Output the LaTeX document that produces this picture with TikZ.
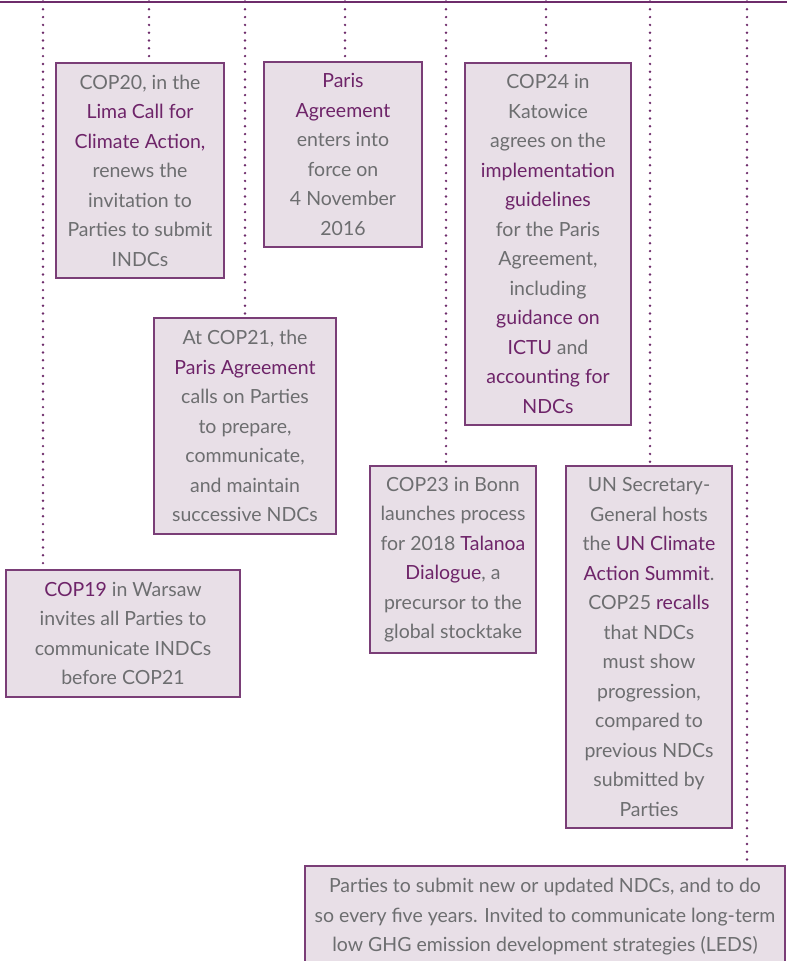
\documentclass[tikz,border=0pt]{standalone}
\usepackage{fontspec}
\setmainfont{Lato}
\definecolor{lineP}{HTML}{6E2C6B}
\definecolor{boxfill}{HTML}{E8DFE7}
\definecolor{boxline}{HTML}{7A3E77}
\definecolor{txtgray}{HTML}{6D6E70}
\definecolor{txtP}{HTML}{6E2469}
\newcommand\ptx[1]{\textcolor{txtP}{#1}}
\begin{document}
\begin{tikzpicture}[x=1pt,y=-1pt,
  box/.style={draw=boxline, line width=1.2pt, fill=boxfill, text=txtgray,
    align=center, inner sep=0pt, font=\fontsize{19.5}{29.5}\selectfont},
  dotline/.style={draw=lineP, line width=2.7pt, line cap=round, dash pattern=on 0pt off 7.8pt}]
\useasboundingbox (0,0) rectangle (787,961);
\clip (0,0) rectangle (787,961);
% top line
\coordinate (L) at (0,1.5);
\coordinate (R) at (787,1.5);
\draw[lineP, line width=2pt] (L) -- (R);
\foreach \n/\x in {1/43,2/149,3/245,4/345,5/446,6/546,7/650,8/747}{
  \coordinate (t\n) at (\x,1.5);
}
% boxes
\node[box, minimum width=168, minimum height=215] (cop20) at (140,170.5)
 {COP20, in the\\ \ptx{Lima Call for}\\ \ptx{Climate Action,}\\ renews the\\ invitation to\\ Parties to submit\\ INDCs};
\node[box, minimum width=158, minimum height=185] (paris) at (343,154.5)
 {\ptx{Paris}\\ \ptx{Agreement}\\ enters into\\ force on\\ 4 November\\ 2016};
\node[box, minimum width=166, minimum height=362] (cop24) at (548,244)
 {COP24 in\\ Katowice\\ agrees on the\\ \ptx{implementation}\\ \ptx{guidelines}\\ for the Paris\\ Agreement,\\ including\\ \ptx{guidance on}\\ \ptx{ICTU} and\\ \ptx{accounting for}\\ \ptx{NDCs}};
\node[box, minimum width=182, minimum height=216] (cop21) at (245,426)
 {At COP21, the\\ \ptx{Paris Agreement}\\ calls on Parties\\ to prepare,\\ communicate,\\ and maintain\\ successive NDCs};
\node[box, minimum width=166, minimum height=187] (cop23) at (453,559.5)
 {COP23 in Bonn\\ launches process\\ for 2018 \ptx{Talanoa}\\ \ptx{Dialogue}, a\\ precursor to the\\ global stocktake};
\node[box, minimum width=166, minimum height=362] (un) at (649,647)
 {UN Secretary-\\ General hosts\\ the \ptx{UN Climate}\\ \ptx{Action Summit}.\\ COP25 \ptx{recalls}\\ that NDCs\\ must show\\ progression,\\ compared to\\ previous NDCs\\ submitted by\\ Parties};
\node[box, minimum width=234, minimum height=127] (cop19) at (123,633.5)
 {\ptx{COP19} in Warsaw\\ invites all Parties to\\ communicate INDCs\\ before COP21};
\node[box, minimum width=480, minimum height=102] (leds) at (545,917)
 {Parties to submit new or updated NDCs, and to do\\ so every five years. Invited to communicate long-term\\ low GHG emission development strategies (LEDS)};
% dotted connectors
\draw[dotline] (t1) -- (t1 |- cop19.north);
\draw[dotline] (t2) -- (t2 |- cop20.north);
\draw[dotline] (t3) -- (t3 |- cop21.north);
\draw[dotline] (t4) -- (t4 |- paris.north);
\draw[dotline] (t5) -- (t5 |- cop23.north);
\draw[dotline] (t6) -- (t6 |- cop24.north);
\draw[dotline] (t7) -- (t7 |- un.north);
\draw[dotline] (t8) -- (t8 |- leds.north);
\end{tikzpicture}
\end{document}
